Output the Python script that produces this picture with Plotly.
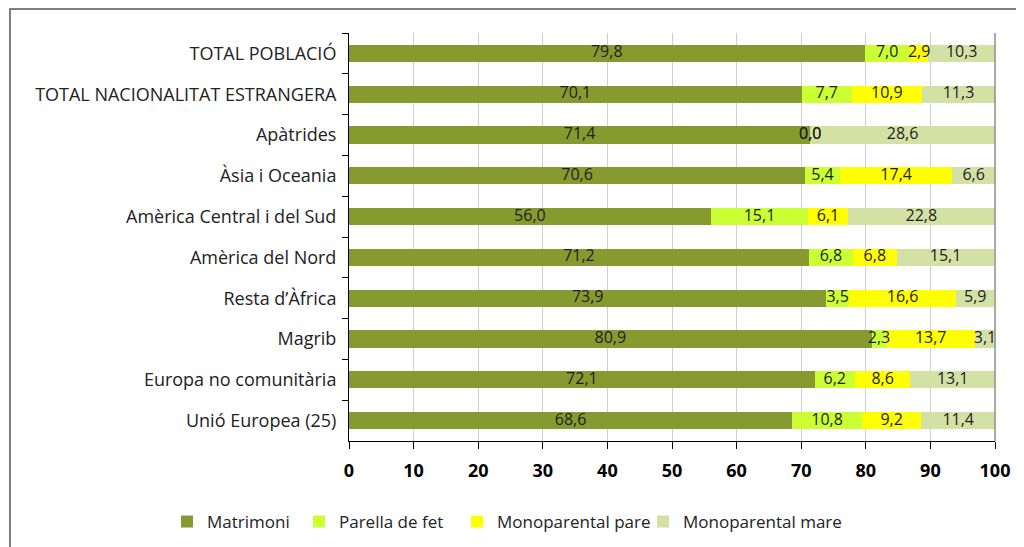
import plotly.graph_objects as go

# Categories, top to bottom as in the chart
categories = [
    "TOTAL POBLACIÓ",
    "TOTAL NACIONALITAT ESTRANGERA",
    "Apàtrides",
    "Àsia i Oceania",
    "Amèrica Central i del Sud",
    "Amèrica del Nord",
    "Resta d’Àfrica",
    "Magrib",
    "Europa no comunitària",
    "Unió Europea (25)",
]

matrimoni = [79.8, 70.1, 71.4, 70.6, 56.0, 71.2, 73.9, 80.9, 72.1, 68.6]
parella_fet = [7.0, 7.7, 0.0, 5.4, 15.1, 6.8, 3.5, 2.3, 6.2, 10.8]
mono_pare = [2.9, 10.9, 0.0, 17.4, 6.1, 6.8, 16.6, 13.7, 8.6, 9.2]
mono_mare = [10.3, 11.3, 28.6, 6.6, 22.8, 15.1, 5.9, 3.1, 13.1, 11.4]

series = [
    ("Matrimoni", matrimoni, "#879A2F"),
    ("Parella de fet", parella_fet, "#CCFF33"),
    ("Monoparental pare", mono_pare, "#FFFF00"),
    ("Monoparental mare", mono_mare, "#D4E1A5"),
]

x_ticks = [0, 10, 20, 30, 40, 50, 60, 70, 80, 90, 100]

# one small legend per series so the entries sit where they do in the original
legend_ids = ["legend", "legend2", "legend3", "legend4"]
legend_x = [-0.2817, -0.0774, 0.1672, 0.4551]

fig = go.Figure()

for (name, values, color), lid in zip(series, legend_ids):
    fig.add_trace(go.Bar(
        y=categories,
        x=values,
        name=name,
        orientation="h",
        marker=dict(color=color, line=dict(width=0)),
        width=0.42,
        hoverinfo="x+name",
        legend=lid,
    ))

# value labels on top of all bars, centred on each segment
left = [0.0] * len(categories)
for name, values, color in series:
    centres = [l + v / 2 for l, v in zip(left, values)]
    labels = [f"{v:.1f}".replace(".", ",") for v in values]
    fig.add_trace(go.Scatter(
        y=categories,
        x=centres,
        mode="text",
        text=labels,
        textposition="middle center",
        textfont=dict(family="Open Sans", size=16, color="#1E1E1E"),
        showlegend=False,
        hoverinfo="skip",
        cliponaxis=False,
    ))
    left = [l + v for l, v in zip(left, values)]

legend_style = dict(
    orientation="h",
    y=-0.1985,
    xanchor="left",
    yanchor="middle",
    font=dict(size=17, color="#222222"),
    itemwidth=30,
    bgcolor="rgba(0,0,0,0)",
)

fig.update_layout(
    barmode="stack",
    width=1024,
    height=547,
    margin=dict(l=341, r=37, t=25, b=114, autoexpand=False),
    paper_bgcolor="white",
    plot_bgcolor="white",
    font=dict(family="Open Sans", color="#222222"),
    showlegend=True,
    legend=dict(x=legend_x[0], **legend_style),
    legend2=dict(x=legend_x[1], **legend_style),
    legend3=dict(x=legend_x[2], **legend_style),
    legend4=dict(x=legend_x[3], **legend_style),
    xaxis=dict(
        range=[0, 100],
        tickvals=x_ticks,
        showgrid=True,
        gridcolor="#CFCFCF",
        gridwidth=1,
        showline=True,
        linecolor="black",
        linewidth=1,
        ticks="outside",
        ticklen=7,
        tickcolor="black",
        ticklabelstandoff=6,
        tickfont=dict(family="Open Sans", size=18, color="black", weight="bold"),
        zeroline=False,
        automargin=False,
        fixedrange=True,
    ),
    yaxis=dict(
        autorange="reversed",
        type="category",
        categoryorder="array",
        categoryarray=categories,
        showline=True,
        linecolor="black",
        linewidth=1,
        ticks="outside",
        tickson="boundaries",
        ticklen=6,
        tickcolor="black",
        showgrid=False,
        tickfont=dict(family="Open Sans", size=18, color="#222222"),
        ticklabelstandoff=8,
        automargin=False,
        fixedrange=True,
    ),
)

# right edge of the plotting area
fig.add_shape(type="line", xref="paper", yref="paper",
              x0=1, x1=1, y0=0, y1=1,
              line=dict(color="#8C8C8C", width=1.5))

# outer frame around the whole chart
fig.add_shape(type="rect", xref="paper", yref="paper",
              x0=-0.5248, x1=1.08, y0=-0.3, y1=1.0588,
              line=dict(color="#555555", width=1.5),
              fillcolor="rgba(0,0,0,0)", layer="below")

fig.write_html("out.html")
